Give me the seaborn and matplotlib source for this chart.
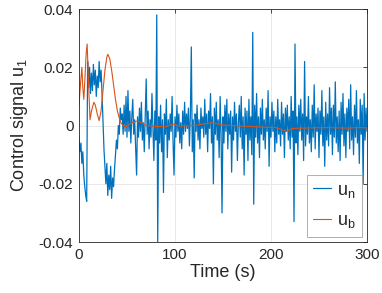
import numpy as np
import pandas as pd
import matplotlib
matplotlib.use("Agg")
import matplotlib.pyplot as plt
import seaborn as sns

# =======================
# Data (values in 1e-3 units)
# =======================
t_n = np.arange(0, 301)  # seconds
u_n_milli = [
    -4, -9, -6, -13, -9, -17, -21, -24, -26, 22,
    13, 20, 11, 18, 12, 21, 14, 19, 10, 17, 13, 22, 15, 19, 11,
    2, -8, -14,
    -20, -13, -24, -17, -22, -14, -25, -18, -21, -15,
    -10, -5, -8, 0, -3, 6, 2,
    4, -3, 7, -2, 10,
    -4, 12, -2, 5, -6, 3, 9, -3, 2, -7,
    -17, 3, -4, 6, -2, 8, -5, 1, -9, 4,
    16, -3, 5, -8, 2, -4, 11, -1, -12, 5,
    -5, 38, -40, 3, -6, 7, -9, 2, -23, 4,
    -3, 9, -11, 2, -5, 4, -2, 10, -6, -17,
    3, -4, 7, -2, 4, -6, 1, -8, 5, -3,
    8, -2, 4, -1, 6, -7, 3, 27, -9, 2,
    -18, 4, -2, 7, -5, 2, -8, 6, -1, 3,
    -4, 9, -3, 4, -9, 5, -1, 11, -6, 3,
    -20, 6, -3, 8, -5, 2, -11, 10, -3, -30,
    3, -6, 7, -2, 9, -8, 4, -3, 5, -16,
    3, -5, 8, -2, 4, -12, 1, 7, -4, 10,
    -8, 3, -17, 6, -3, 5, -12, 9, -5, 3,
    -10, 32, -27, 7, -4, 11, -6, 3, -11, 6,
    -3, 9, -5, 2, -8, 6, -2, 12, -14, 3,
    -4, 8, -2, 5, -9, 3, -6, 9, -3, 2,
    -7, 8, -3, 4, -11, 6, -2, 7, -5, 3,
    -8, 10, -4, 5, -33, 28, -6, 3, -10, 7,
    -2, 9, -5, 4, -12, 22, -7, 3, -3, 10,
    -6, 2, -9, 7, -4, 14, -8, 4, -2, 6,
    -11, 5, -3, 12, -7, 3, -14, 8, -5, 4,
    -7, 13, -3, 6, -10, 7, -4, 15, -6, 3,
    -9, 5, -12, 8, -3, 11, -7, 4, -11, 6,
    -2, 9, -8, 14, -5, 3, -10, 7, -4, 12,
    -6, 2, -13, 9, -3, 7, -20, 11, -5, 6,
    -2,
]

t_b = [0, 1.5, 3, 4, 5, 6, 7.5, 8.5, 10, 11.5, 13, 15.5, 17, 19, 21, 23,
       25, 27, 29, 30, 32, 34, 36, 38, 40, 42, 44, 46, 48, 50, 55, 60, 65,
       70, 80, 90, 98, 105, 120, 138, 150, 170, 190, 205, 212, 216, 222,
       240, 260, 280, 290, 300]
u_b_milli = [7, 14, 20, 13, 9, 15, 25, 28, 14, 2, 5, 8, 7, 4, 1.7, 5, 12,
             19, 23.5, 24.5, 23, 19, 14, 9, 5, 2.5, 0.8, 0, -0.5, -0.3,
             1, 1.5, 1, 0, -0.3, -0.4, 0.5, -0.2, 0, 1, 0.2, -0.2, -0.5,
             -0.7, -1.5, -2, -1, -0.8, -0.7, -0.9, -0.7, -0.8]

df_n = pd.DataFrame({"t": t_n, "u": np.array(u_n_milli) * 1e-3})
df_b = pd.DataFrame({"t": t_b, "u": np.array(u_b_milli) * 1e-3})

# =======================
# Plot
# =======================
sns.set_style("white")
plt.rcParams["font.family"] = ["Liberation Sans", "DejaVu Sans"]
plt.rcParams["mathtext.fontset"] = "custom"
plt.rcParams["mathtext.rm"] = "Liberation Sans"
plt.rcParams["mathtext.it"] = "Liberation Sans"

fig = plt.figure(figsize=(3.82, 2.93), dpi=100)
ax = fig.add_axes([0.2068, 0.174, 0.7539, 0.795])

sns.lineplot(data=df_n, x="t", y="u", ax=ax, color="#0072BD",
             linewidth=0.9, estimator=None, label="u$_\\mathrm{n}$")
sns.lineplot(data=df_b, x="t", y="u", ax=ax, color="#D95319",
             linewidth=0.8, estimator=None, label="u$_\\mathrm{b}$")

ax.set_xlim(0, 300)
ax.set_ylim(-0.04, 0.04)
ax.set_xticks([0, 100, 200, 300])
ax.set_yticks([-0.04, -0.02, 0, 0.02, 0.04])
ax.set_yticklabels(["-0.04", "-0.02", "0", "0.02", "0.04"])
ax.grid(True, color="#e6e6e6", linewidth=0.6)
ax.set_axisbelow(True)
for s in ax.spines.values():
    s.set_color("#262626")
    s.set_linewidth(0.6)
ax.tick_params(direction="in", length=3, width=0.6, labelsize=11,
               colors="#262626", top=True, right=True, pad=4)
ax.set_xlabel("Time (s)", fontsize=13, color="#262626", labelpad=2)
ax.set_ylabel("Control signal u$_1$", fontsize=13, color="#262626", labelpad=6)

leg = ax.legend(loc="lower right", fontsize=13, frameon=True, fancybox=False,
                edgecolor="#8c8c8c", handlelength=1.0, handletextpad=0.3,
                borderaxespad=0.3, labelspacing=0.7, borderpad=0.35)
leg.get_frame().set_linewidth(0.6)

fig.savefig("out.png", dpi=100)
